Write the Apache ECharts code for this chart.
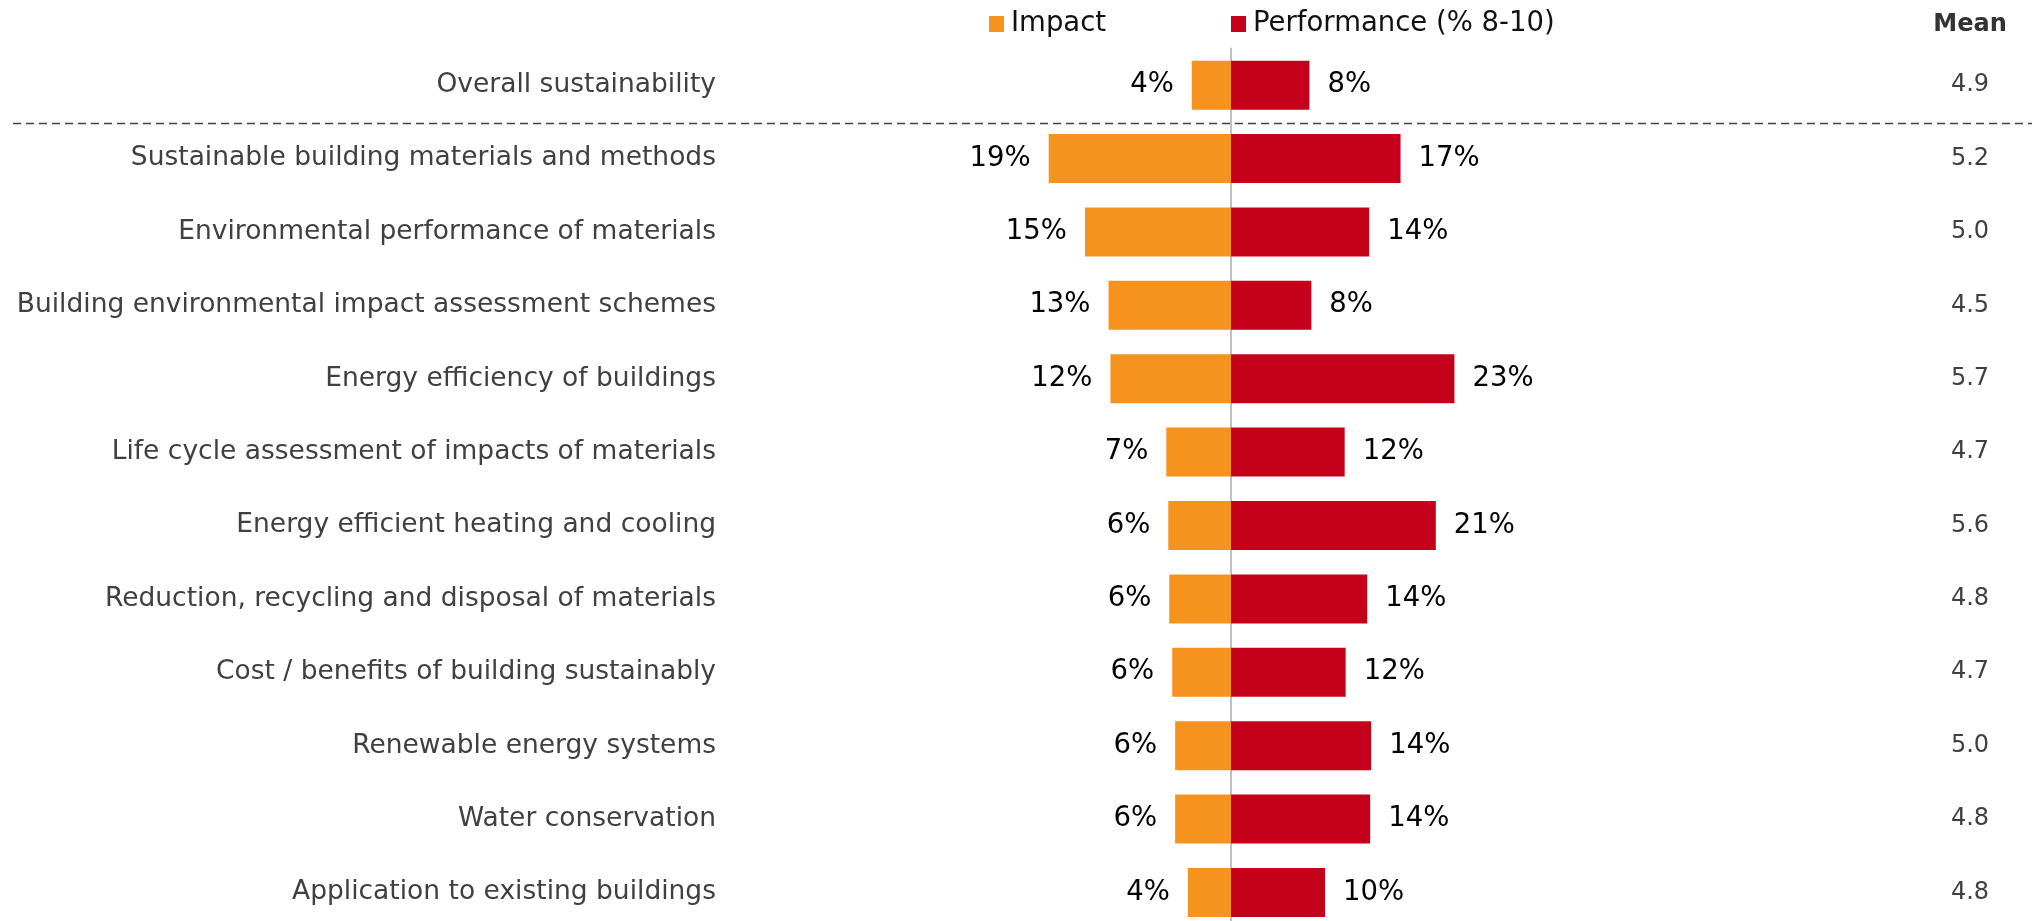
<!DOCTYPE html>
<html>
<head>
<meta charset="utf-8">
<script src="https://cdn.jsdelivr.net/npm/echarts@6/dist/echarts.min.js"></script>
<style>
  html, body { margin: 0; padding: 0; background: #fff; }
  #main { width: 2032px; height: 921px; }
</style>
</head>
<body>
<div id="main"></div>
<script>
// rows top to bottom, first one is the overall score
var categories = [
  'Overall sustainability',
  'Sustainable building materials and methods',
  'Environmental performance of materials',
  'Building environmental impact assessment schemes',
  'Energy efficiency of buildings',
  'Life cycle assessment of impacts of materials',
  'Energy efficient heating and cooling',
  'Reduction, recycling and disposal of materials',
  'Cost / benefits of building sustainably',
  'Renewable energy systems',
  'Water conservation',
  'Application to existing buildings'
];
var impact = [4.0, 18.6, 14.9, 12.5, 12.3, 6.6, 6.4, 6.3, 6.0, 5.7, 5.7, 4.4];
var performance = [8.0, 17.3, 14.1, 8.2, 22.8, 11.6, 20.9, 13.9, 11.7, 14.3, 14.2, 9.6];
var means = ['4.9', '5.2', '5.0', '4.5', '5.7', '4.7', '5.6', '4.8', '4.7', '5.0', '4.8', '4.8'];

var FONT = 'DejaVu Sans';
var ORANGE = '#F6931F';
var RED = '#C5001A';

var chart = echarts.init(document.getElementById('main'));

function pct(p) {
  return Math.round(Math.abs(p.value)) + '%';
}

var option = {
  animation: false,
  textStyle: { fontFamily: FONT },
  title: {
    text: 'Mean',
    left: 1970,
    top: 13,
    padding: 0,
    textAlign: 'center',
    textStyle: { fontFamily: FONT, fontSize: 24, fontWeight: 'bold', color: '#333' }
  },
  legend: [{
    data: ['Impact'],
    left: 989,
    top: 10,
    padding: 0,
    icon: 'rect',
    itemWidth: 15,
    itemHeight: 16,
    itemGap: 0,
    textStyle: { fontFamily: FONT, fontSize: 27.5, color: '#111', padding: [0, 0, 0, 2] }
  }, {
    data: ['Performance (% 8-10)'],
    left: 1231,
    top: 10,
    padding: 0,
    icon: 'rect',
    itemWidth: 15,
    itemHeight: 16,
    itemGap: 0,
    textStyle: { fontFamily: FONT, fontSize: 27.5, color: '#111', padding: [0, 0, 0, 2] }
  }],
  grid: { left: 937, right: 507, top: 48.5, height: 880.6, outerBoundsMode: 'none' },
  xAxis: {
    type: 'value',
    min: -30,
    max: 30,
    show: false
  },
  yAxis: [{
    type: 'category',
    data: categories,
    inverse: true,
    axisLine: { show: true, onZero: true, lineStyle: { color: '#C0C0C0', width: 2 } },
    axisTick: { show: false },
    axisLabel: { margin: 221, fontSize: 26.5, color: '#404040', fontFamily: FONT, padding: [6, 0, 0, 0] }
  }, {
    type: 'category',
    data: categories,
    inverse: true,
    position: 'right',
    axisLine: { show: false, onZero: false },
    axisTick: { show: false },
    axisLabel: {
      margin: 445,
      align: 'center',
      fontSize: 24,
      color: '#404040',
      fontFamily: FONT,
      padding: [6, 0, 0, 0],
      formatter: function (v, i) { return means[i]; }
    }
  }],
  series: [{
    name: 'Impact',
    type: 'bar',
    stack: 'total',
    barWidth: 49,
    itemStyle: { color: ORANGE },
    label: { show: true, position: 'left', distance: 18, fontSize: 27.5, color: '#000', padding: [6, 0, 0, 0], formatter: pct },
    data: impact.map(function (v) { return -v; })
  }, {
    name: 'Performance (% 8-10)',
    type: 'bar',
    stack: 'total',
    barWidth: 49,
    itemStyle: { color: RED },
    label: { show: true, position: 'right', distance: 18, fontSize: 27.5, color: '#000', padding: [6, 0, 0, 0], formatter: pct },
    data: performance
  }]
};

chart.setOption(option);

// dashed separator under the overall row
var y0 = chart.convertToPixel({ yAxisIndex: 0 }, categories[0]);
var y1 = chart.convertToPixel({ yAxisIndex: 0 }, categories[1]);
var ySep = Math.round((y0 + y1) / 2) + 1.5;
chart.setOption({
  graphic: [{
    type: 'line',
    shape: { x1: 13, y1: ySep, x2: 2032, y2: ySep },
    style: { stroke: '#404040', lineWidth: 1.5, lineDash: [8, 5] },
    z: 10
  }]
});
</script>
</body>
</html>
